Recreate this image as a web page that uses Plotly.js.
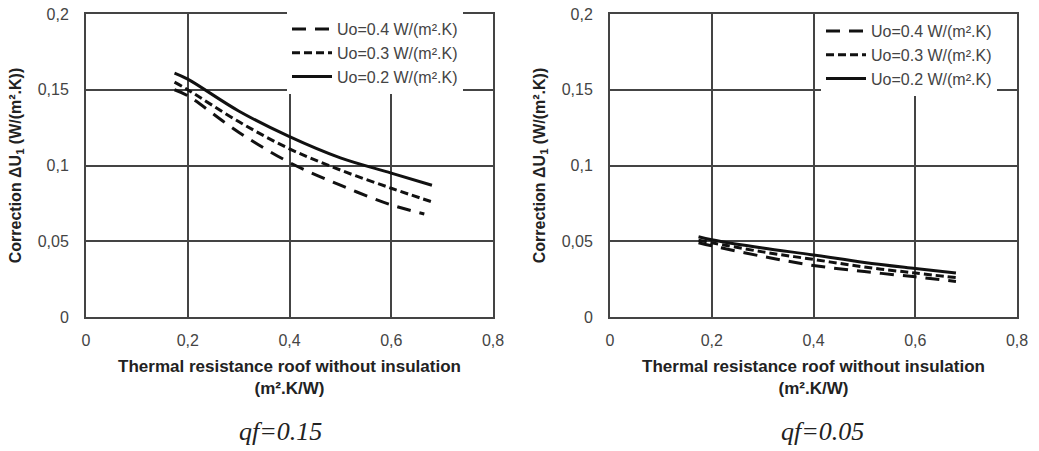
<!DOCTYPE html>
<html>
<head>
<meta charset="utf-8">
<script src="https://cdn.plot.ly/plotly-3.0.1.min.js"></script>
<style>html,body{margin:0;padding:0;background:#fff;}#chart{width:1039px;height:451px;}</style>
</head>
<body>
<div id="chart"></div>
<script>
// Data
const seriesNames = ["Uo=0.4 W/(m².K)", "Uo=0.3 W/(m².K)", "Uo=0.2 W/(m².K)"];
const xFull = [0.174, 0.2, 0.3, 0.4, 0.5, 0.6, 0.68];
const xLong = [0.174, 0.2, 0.3, 0.4, 0.5, 0.6, 0.665];

// qf = 0.15 (left chart)
const left_U04 = [0.150, 0.146, 0.122, 0.102, 0.087, 0.074, 0.068];
const left_U03 = [0.155, 0.150, 0.129, 0.111, 0.097, 0.085, 0.076];
const left_U02 = [0.161, 0.157, 0.136, 0.119, 0.105, 0.095, 0.087];

// qf = 0.05 (right chart)
const right_U04 = [0.049, 0.047, 0.040, 0.034, 0.030, 0.0265, 0.0235];
const right_U03 = [0.0507, 0.049, 0.043, 0.038, 0.033, 0.029, 0.026];
const right_U02 = [0.053, 0.051, 0.0455, 0.041, 0.036, 0.032, 0.029];

const xTickVals = [0, 0.2, 0.4, 0.6, 0.8];
const xTickText = ["0", "0,2", "0,4", "0,6", "0,8"];
const yTickVals = [0, 0.05, 0.1, 0.15, 0.2];
const yTickText = ["0", "0,05", "0,1", "0,15", "0,2"];
const panelLabels = ["qf=0.15", "qf=0.05"];

const xTitle = "<b>Thermal resistance roof without insulation<br>(m².K/W)</b>";
const yTitle = "<b>Correction ΔU<sub>1</sub> (W/(m².K))</b>";

const dashes = ["14px,9px", "8px,4px", "solid"];
const W = 1039, H = 451;

function mk(x, y, i, xa, ya, lg) {
  return {
    x: x, y: y, type: "scatter", mode: "lines",
    name: seriesNames[i], xaxis: xa, yaxis: ya, legend: lg, showlegend: true,
    line: {color: "#111", width: 3, dash: dashes[i], shape: "spline", smoothing: 1}
  };
}

const traces = [
  mk(xLong, left_U04, 0, "x", "y", "legend"),
  mk(xFull, left_U03, 1, "x", "y", "legend"),
  mk(xFull, left_U02, 2, "x", "y", "legend"),
  mk(xFull, right_U04, 0, "x2", "y2", "legend2"),
  mk(xFull, right_U03, 1, "x2", "y2", "legend2"),
  mk(xFull, right_U02, 2, "x2", "y2", "legend2")
];

const font = {family: "Liberation Sans, Arial, sans-serif", color: "#333"};

function xax(domain, anchor) {
  return {
    domain: domain, anchor: anchor, range: [0, 0.8], tickvals: xTickVals, ticktext: xTickText,
    showgrid: true, gridcolor: "#444", gridwidth: 2, zeroline: false,
    showline: true, mirror: true, linecolor: "#444", linewidth: 2,
    ticks: "outside", ticklen: 8, tickcolor: "rgba(0,0,0,0)",
    tickfont: {family: font.family, size: 16, color: "#444"},
    title: {text: xTitle, font: {family: font.family, size: 17, color: "#222"}, standoff: 12},
    automargin: false, fixedrange: true
  };
}
function yax(domain, anchor) {
  return {
    domain: domain, anchor: anchor, range: [0, 0.2], tickvals: yTickVals, ticktext: yTickText,
    showgrid: true, gridcolor: "#444", gridwidth: 2, zeroline: false,
    showline: true, mirror: true, linecolor: "#444", linewidth: 2,
    ticks: "outside", ticklen: 12, tickcolor: "rgba(0,0,0,0)",
    tickfont: {family: font.family, size: 16, color: "#444"},
    title: {text: yTitle, font: {family: font.family, size: 16, color: "#222"}, standoff: 12},
    automargin: false, fixedrange: true
  };
}

const yDom = [1 - 317 / H, 1 - 14 / H];
const legendFont = {family: font.family, size: 16, color: "#444"};
const layout = {
  width: W, height: H,
  margin: {l: 0, r: 0, t: 0, b: 0},
  paper_bgcolor: "#fff", plot_bgcolor: "#fff",
  font: font,
  separators: ",.",
  xaxis: xax([86 / W, 493 / W], "y"),
  yaxis: yax(yDom, "x"),
  xaxis2: xax([610 / W, 1017 / W], "y2"),
  yaxis2: yax(yDom, "x2"),
  legend: {
    x: 287 / W, y: 1 - 12 / H, xanchor: "left", yanchor: "top",
    bgcolor: "#fff", borderwidth: 0, tracegroupgap: 0, font: legendFont, itemwidth: 40
  },
  legend2: {
    x: 821 / W, y: 1 - 14 / H, xanchor: "left", yanchor: "top",
    bgcolor: "#fff", borderwidth: 0, tracegroupgap: 0, font: legendFont, itemwidth: 40
  },
  annotations: [
    {text: "<i>" + panelLabels[0] + "</i>", x: 280 / W, y: 1 - 431 / H, xref: "paper", yref: "paper",
     xanchor: "center", yanchor: "middle", showarrow: false,
     font: {family: "Liberation Serif, Times New Roman, serif", size: 26, color: "#222"}},
    {text: "<i>" + panelLabels[1] + "</i>", x: 822 / W, y: 1 - 431 / H, xref: "paper", yref: "paper",
     xanchor: "center", yanchor: "middle", showarrow: false,
     font: {family: "Liberation Serif, Times New Roman, serif", size: 26, color: "#222"}}
  ]
};

Plotly.newPlot("chart", traces, layout, {staticPlot: true, displayModeBar: false});
</script>
</body>
</html>
